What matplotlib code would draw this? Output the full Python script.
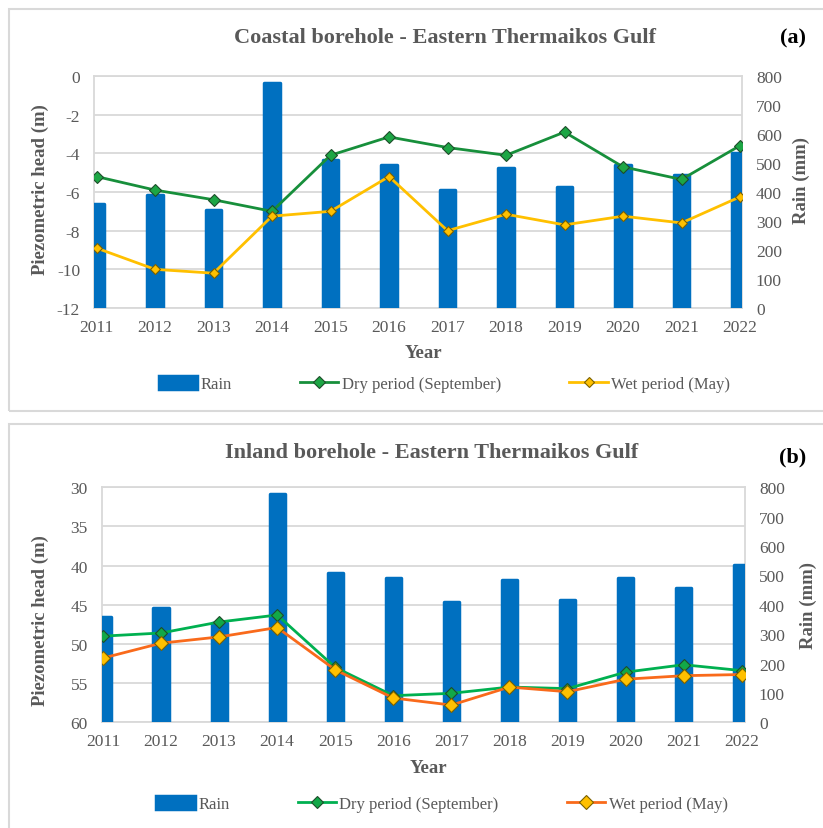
import matplotlib
matplotlib.use("Agg")
import matplotlib.pyplot as plt
from matplotlib.patches import Rectangle

plt.rcParams['font.family'] = ['Liberation Serif', 'DejaVu Serif']
plt.rcParams['axes.unicode_minus'] = False

years = [2011, 2012, 2013, 2014, 2015, 2016, 2017, 2018, 2019, 2020, 2021, 2022]
rain = [360, 390, 337, 777, 509, 492, 408, 483, 416, 492, 457, 535]

coastal_dry = [-5.2, -5.9, -6.4, -7.0, -4.1, -3.15, -3.7, -4.1, -2.9, -4.7, -5.35, -3.6]
coastal_wet = [-8.9, -10.0, -10.2, -7.25, -7.0, -5.2, -8.0, -7.15, -7.7, -7.25, -7.6, -6.25]

inland_dry = [49.0, 48.6, 47.2, 46.3, 53.0, 56.6, 56.3, 55.5, 55.7, 53.6, 52.65, 53.4]
inland_wet = [51.8, 49.9, 49.1, 47.9, 53.3, 56.9, 57.8, 55.5, 56.1, 54.5, 54.05, 53.9]

head_ticks_a = [-12, -10, -8, -6, -4, -2, 0]
head_ticks_b = [30, 35, 40, 45, 50, 55, 60]
rain_ticks = [0, 100, 200, 300, 400, 500, 600, 700, 800]

GRAY = '#595959'
GRID = '#d9d9d9'
BLUE = '#0070C0'

W, H = 823, 829
fig = plt.figure(figsize=(W / 100, H / 100), dpi=100)


def px_rect(left, top, right, bottom):
    # pixel box -> figure fraction rect
    return [left / W, 1 - bottom / H, (right - left) / W, (bottom - top) / H]


def panel(rect, xlim, head_ticks, ylim, dry, wet, dry_col, dry_mk, wet_col, wet_mk, mk_dry, mk_wet):
    ax = fig.add_axes(rect)
    ax.set_xlim(xlim)
    ax.set_ylim(ylim)
    ax.set_yticks(head_ticks)
    ax.set_xticks(years)
    ax.grid(axis='y', color=GRID, lw=1.3)
    ax.set_axisbelow(True)
    for s in ax.spines.values():
        s.set_color(GRID)
        s.set_linewidth(1.3)
    ax.tick_params(length=0, labelsize=12.5, labelcolor=GRAY, pad=10)
    ax.tick_params(axis='x', pad=8)
    ax.set_zorder(1)

    # rain bars on the right axis, drawn above the grid
    axr = ax.twinx()
    bars = axr.bar(years, rain, width=0.26, color=BLUE, edgecolor=BLUE, lw=2.5,
                   joinstyle='round', label='Rain')
    axr.set_ylim(0, 800)
    axr.set_yticks(rain_ticks)
    axr.tick_params(length=0, labelsize=12.5, labelcolor=GRAY, pad=10)
    for s in axr.spines.values():
        s.set_visible(False)
    axr.set_zorder(2)
    axr.patch.set_visible(False)

    # head lines on top of the bars
    axl = fig.add_axes(rect, sharex=ax, sharey=ax)
    axl.axis('off')
    axl.set_zorder(3)
    l1, = axl.plot(years, dry, color=dry_col, lw=2, marker='D', ms=mk_dry,
                   mfc=dry_mk, mec='#1d4d2a', mew=0.8, label='Dry period (September)')
    l2, = axl.plot(years, wet, color=wet_col, lw=2, marker='D', ms=mk_wet,
                   mfc=wet_mk, mec='#7a6000', mew=0.8, label='Wet period (May)')
    return bars, l1, l2


# (a) coastal
h = panel(px_rect(94, 77, 742, 309), (2010.957, 2022.034), head_ticks_a, (-12, 0),
          coastal_dry, coastal_wet, '#178f3b', '#1da645', '#FFC000', '#FFC000', 6.5, 5.5)
fig.legend(h, [x.get_label() for x in h], loc='center', bbox_to_anchor=(0.54, 0.5356),
           ncol=3, frameon=False, fontsize=12, handlelength=2.3, handleheight=0.85,
           handletextpad=0.2, columnspacing=4.1, labelcolor=GRAY)

# (b) inland
h = panel(px_rect(101.7, 488.3, 745, 723.3), (2010.978, 2022.057), head_ticks_b, (60, 30),
          inland_dry, inland_wet, '#00B050', '#12a848', '#f96a1b', '#FFC000', 6.5, 7)
fig.legend(h, [x.get_label() for x in h], loc='center', bbox_to_anchor=(0.537, 0.029),
           ncol=3, frameon=False, fontsize=12, handlelength=2.3, handleheight=0.85,
           handletextpad=0.2, columnspacing=4.1, labelcolor=GRAY)

# titles and labels
fig.text(0.5407, 0.954, 'Coastal borehole - Eastern Thermaikos Gulf', ha='center', va='center',
         fontsize=16, fontweight='bold', color=GRAY)
fig.text(0.525, 0.4535, 'Inland borehole - Eastern Thermaikos Gulf', ha='center', va='center',
         fontsize=16, fontweight='bold', color=GRAY)
fig.text(0.963, 0.954, '(a)', ha='center', va='center', fontsize=16, fontweight='bold', color='black')
fig.text(0.9635, 0.448, '(b)', ha='center', va='center', fontsize=16, fontweight='bold', color='black')

for x, y in [(0.0486, 0.771), (0.0486, 0.251)]:
    fig.text(x, y, 'Piezometric head (m)', rotation=90, ha='center', va='center',
             fontsize=13.5, fontweight='bold', color=GRAY)
for x, y in [(0.974, 0.782), (0.982, 0.269)]:
    fig.text(x, y, 'Rain (mm)', rotation=90, ha='center', va='center',
             fontsize=13.5, fontweight='bold', color=GRAY)
for x, y in [(0.515, 0.574), (0.521, 0.0724)]:
    fig.text(x, y, 'Year', ha='center', va='center', fontsize=13.5, fontweight='bold', color=GRAY)

# panel frames
fig.add_artist(Rectangle((9 / W, 1 - 412 / H), 1.0, 402 / H, transform=fig.transFigure,
                         fill=False, ec=GRID, lw=1.5))
fig.add_artist(Rectangle((9 / W, -0.02), 1.0, 0.02 + 1 - 425 / H, transform=fig.transFigure,
                         fill=False, ec=GRID, lw=1.5))

fig.savefig('out.png', dpi=100)
